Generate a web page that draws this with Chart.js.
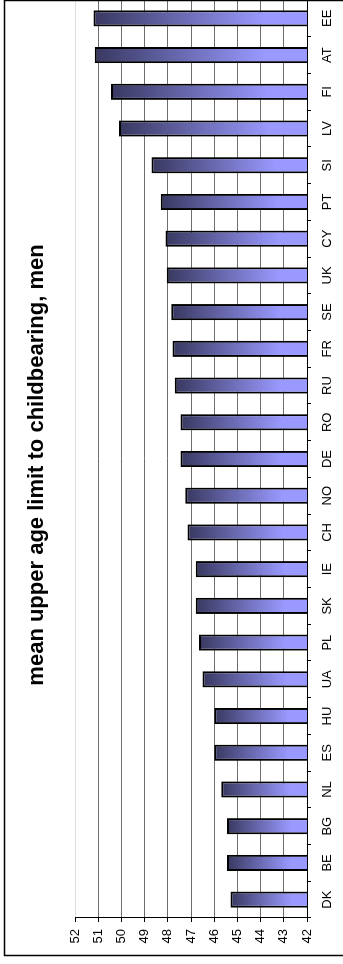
<!DOCTYPE html>
<html>
<head>
<meta charset="utf-8">
<script src="https://cdn.jsdelivr.net/npm/chart.js@4/dist/chart.umd.min.js"></script>
<style>
html,body{margin:0;padding:0;background:#fff;overflow:hidden;width:343px;height:964px;}
#wrap{position:absolute;left:0;top:0;width:964px;height:343px;transform-origin:0 0;transform:translate(0,964px) rotate(-90deg);}
</style>
</head>
<body>
<div id="wrap"><canvas id="c" width="964" height="343"></canvas></div>
<script>
const categories = ['DK','BE','BG','NL','ES','HU','UA','PL','SK','IE','CH','NO','DE','RO','RU','FR','SE','UK','CY','PT','SI','LV','FI','AT','EE'];
const values = [45.3,45.45,45.45,45.7,46.0,46.0,46.5,46.65,46.8,46.8,47.15,47.25,47.45,47.45,47.7,47.8,47.85,48.05,48.1,48.3,48.7,50.1,50.45,51.15,51.2];
const axisMin = 42;
const axisMax = 52;
const titleText = 'mean upper age limit to childbearing, men';

const FONT = '"Liberation Sans", Arial, sans-serif';

const framePlugin = {
  id: 'frame',
  afterDraw(chart) {
    const ctx = chart.ctx;
    ctx.save();
    ctx.strokeStyle = '#000';
    ctx.lineWidth = 1.5;
    ctx.strokeRect(8.5, 4.5, 955, 400);
    ctx.fillStyle = '#000';
    ctx.font = 'bold 22px ' + FONT;
    ctx.textAlign = 'center';
    ctx.textBaseline = 'alphabetic';
    ctx.fillText(titleText, 499, 43);
    ctx.restore();
  }
};

function barGradient(context) {
  const chart = context.chart;
  if (!chart.chartArea || context.raw === undefined) return '#9999ff';
  const y = chart.scales.y;
  const top = y.getPixelForValue(context.raw);
  const base = y.getPixelForValue(axisMin);
  const g = chart.ctx.createLinearGradient(0, top, 0, base);
  g.addColorStop(0, '#383860');
  g.addColorStop(0.8, '#9999ff');
  g.addColorStop(1, '#9999ff');
  return g;
}

new Chart(document.getElementById('c'), {
  type: 'bar',
  data: {
    labels: categories,
    datasets: [{
      data: values,
      backgroundColor: barGradient,
      borderColor: '#000',
      borderWidth: 2,
      borderSkipped: false,
      categoryPercentage: 1,
      barPercentage: 0.44
    }]
  },
  options: {
    responsive: false,
    devicePixelRatio: 1,
    animation: false,
    layout: { padding: { top: 75, left: 0, right: 0, bottom: 0 } },
    plugins: { legend: { display: false }, title: { display: false }, tooltip: { enabled: false } },
    scales: {
      x: {
        offset: true,
        grid: { drawOnChartArea: false, offset: true, tickLength: 4, tickColor: '#000', tickWidth: 1 },
        border: { color: '#000', width: 1 },
        ticks: { color: '#000', font: { family: FONT, size: 13 }, padding: 9, maxRotation: 0, autoSkip: false },
        afterFit(scale) { scale.height = 36; }
      },
      y: {
        min: axisMin,
        max: axisMax,
        grid: {
          color: (c) => (c.tick && c.tick.value === axisMax) ? '#dddddd' : '#6e6e6e',
          lineWidth: 1,
          tickLength: 4,
          tickColor: '#000'
        },
        border: { color: '#000', width: 1 },
        ticks: { stepSize: 1, color: '#000', font: { family: FONT, size: 13 }, padding: 7 },
        afterFit(scale) { scale.width = 46; }
      }
    }
  },
  plugins: [framePlugin]
});
</script>
</body>
</html>
